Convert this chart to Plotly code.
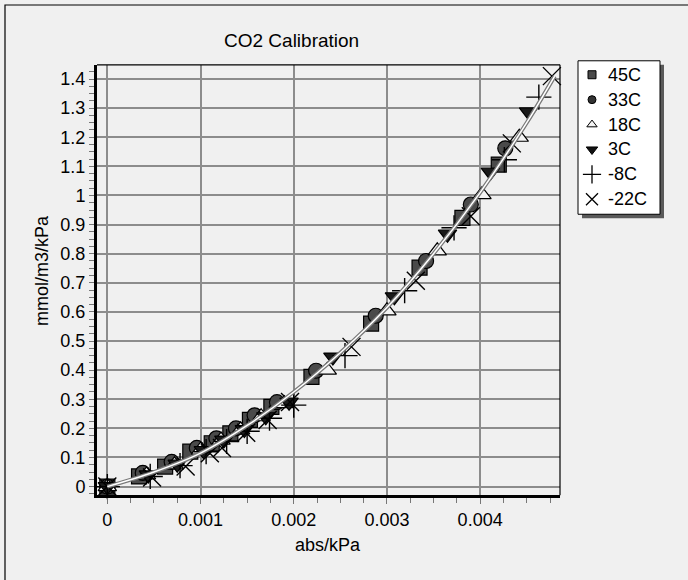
import plotly.graph_objects as go

# ---- data ----
series_names = ["45C", "33C", "18C", "3C", "-8C", "-22C"]

x_45 = [0, 0.00034, 0.00062, 0.00089, 0.00112, 0.00132, 0.00153, 0.00176, 0.00219, 0.00283, 0.00335, 0.00381, 0.00420]
y_45 = [0, 0.035, 0.069, 0.120, 0.149, 0.183, 0.229, 0.274, 0.377, 0.560, 0.752, 0.923, 1.106]

x_33 = [0, 0.00038, 0.00069, 0.00096, 0.00117, 0.00138, 0.00158, 0.00182, 0.00224, 0.00288, 0.00342, 0.00390, 0.00427]
y_33 = [0, 0.047, 0.085, 0.133, 0.166, 0.200, 0.245, 0.290, 0.398, 0.587, 0.775, 0.969, 1.162]

x_18 = [0, 0.00042, 0.00072, 0.00100, 0.00122, 0.00143, 0.00165, 0.00190, 0.00236, 0.00300, 0.00354, 0.00402, 0.00442]
y_18 = [0, 0.040, 0.075, 0.125, 0.160, 0.195, 0.240, 0.285, 0.400, 0.604, 0.810, 1.003, 1.200]

x_3 = [0, 0.00044, 0.00075, 0.00103, 0.00125, 0.00147, 0.00170, 0.00195, 0.00242, 0.00308, 0.00365, 0.00411, 0.00452]
y_3 = [0, 0.040, 0.077, 0.124, 0.160, 0.196, 0.240, 0.290, 0.445, 0.652, 0.867, 1.080, 1.287]

x_m8 = [0, 0.00046, 0.00078, 0.00106, 0.00128, 0.00150, 0.00174, 0.00200, 0.00255, 0.00319, 0.00372, 0.00426, 0.00463]
y_m8 = [0, 0.035, 0.072, 0.120, 0.155, 0.190, 0.235, 0.280, 0.450, 0.673, 0.889, 1.123, 1.338]

x_m22 = [0, 0.00048, 0.00084, 0.00110, 0.00123, 0.00149, 0.00172, 0.00196, 0.00262, 0.00331, 0.00390, 0.00434, 0.00477]
y_m22 = [0, 0.031, 0.069, 0.115, 0.133, 0.185, 0.229, 0.291, 0.480, 0.707, 0.929, 1.179, 1.410]

fit_x = [0, 0.0005, 0.001, 0.0015, 0.002, 0.0025, 0.003, 0.0035, 0.004, 0.0045, 0.0048]
fit_y = [0, 0.050, 0.115, 0.210, 0.325, 0.460, 0.615, 0.800, 1.010, 1.250, 1.410]

x_ticks = [0, 0.001, 0.002, 0.003, 0.004]
x_ticklabels = ["0", "0.001", "0.002", "0.003", "0.004"]
y_ticks = [0, 0.1, 0.2, 0.3, 0.4, 0.5, 0.6, 0.7, 0.8, 0.9, 1.0, 1.1, 1.2, 1.3, 1.4]
y_ticklabels = ["0", "0.1", "0.2", "0.3", "0.4", "0.5", "0.6", "0.7", "0.8", "0.9", "1", "1.1", "1.2", "1.3", "1.4"]

# ---- styles ----
FONT = "Liberation Sans, Arial, sans-serif"
FS = 18
styles = [
    dict(symbol="square", color="#4a4a4a", line=dict(color="black", width=1.2), size=15),
    dict(symbol="circle", color="#4a4a4a", line=dict(color="black", width=1.2), size=15),
    dict(symbol="triangle-up", color="#f4f4f4", line=dict(color="black", width=1.2), size=16),
    dict(symbol="triangle-down", color="#1a1a1a", line=dict(color="black", width=1.2), size=16),
    dict(symbol="cross-thin", color="black", line=dict(color="black", width=1.4), size=18),
    dict(symbol="x-thin", color="black", line=dict(color="black", width=1.4), size=18),
]
legend_styles = [
    dict(symbol="square", color="#4a4a4a", line=dict(color="black", width=1), size=8),
    dict(symbol="circle", color="#333333", line=dict(color="black", width=1), size=8),
    dict(symbol="triangle-up", color="#f4f4f4", line=dict(color="black", width=1), size=9),
    dict(symbol="triangle-down", color="#111111", line=dict(color="black", width=1), size=10),
    dict(symbol="cross-thin", color="black", line=dict(color="black", width=1.3), size=13),
    dict(symbol="x-thin", color="black", line=dict(color="black", width=1.3), size=12),
]
xs = [x_45, x_33, x_18, x_3, x_m8, x_m22]
ys = [y_45, y_33, y_18, y_3, y_m8, y_m22]

W, H = 688, 580
PL, PR, PT, PB = 97, 560, 65, 497   # plot area in pixels

def fx(p):
    return p / W

def fy(p):
    return (H - p) / H

fig = go.Figure()
for name, xv, yv, st in zip(series_names, xs, ys, styles):
    fig.add_trace(go.Scatter(x=xv, y=yv, mode="markers", name=name, marker=st,
                             showlegend=False, cliponaxis=False))

fig.add_trace(go.Scatter(x=fit_x, y=fit_y, mode="lines", line=dict(color="#7a7a7a", width=4, shape="spline"),
                         showlegend=False, hoverinfo="skip"))
fig.add_trace(go.Scatter(x=fit_x, y=fit_y, mode="lines", line=dict(color="#ffffff", width=1.5, shape="spline"),
                         showlegend=False, hoverinfo="skip"))

# ---- hand-drawn legend on a pixel-space overlay axis ----
leg_rows = [75, 100, 125, 150, 175, 200]
leg_sym_x = 592
leg_txt_x = 606
for name, st, ry in zip(series_names, legend_styles, leg_rows):
    fig.add_trace(go.Scatter(x=[leg_sym_x], y=[ry], mode="markers", marker=st, xaxis="x2", yaxis="y2",
                             showlegend=False, hoverinfo="skip", cliponaxis=False))

annotations = [
    dict(text="CO2 Calibration", x=fx(291), y=fy(41), xref="paper", yref="paper", showarrow=False,
         font=dict(size=19), xanchor="center", yanchor="middle"),
    dict(text="abs/kPa", x=fx(328), y=fy(547), xref="paper", yref="paper", showarrow=False,
         font=dict(size=FS), xanchor="center", yanchor="middle"),
    dict(text="mmol/m3/kPa", x=fx(42), y=fy(272), xref="paper", yref="paper", showarrow=False,
         font=dict(size=FS), xanchor="center", yanchor="middle", textangle=-90),
]
for name, ry in zip(series_names, leg_rows):
    annotations.append(dict(text=name, x=fx(leg_txt_x), y=fy(ry), xref="paper", yref="paper",
                            showarrow=False, font=dict(size=FS), xanchor="left", yanchor="middle"))

fig.update_layout(
    width=W, height=H,
    margin=dict(l=0, r=0, t=0, b=0),
    paper_bgcolor="#f0f0f0", plot_bgcolor="rgba(0,0,0,0)",
    font=dict(family=FONT, size=FS, color="black"),
    showlegend=False,
    xaxis=dict(domain=[fx(PL), fx(PR)], anchor="y",
               range=[-0.000111, 0.004857], tickvals=x_ticks, ticktext=x_ticklabels,
               showgrid=True, gridcolor="#8c8c8c", gridwidth=1.5, zeroline=False,
               showline=True, linecolor="black", linewidth=3,
               ticks="outside", ticklen=6, tickcolor="#777777", tickwidth=1,
               minor=dict(dtick=0.00025, tick0=0, ticks="outside", ticklen=5, tickcolor="#777777", showgrid=False),
               tickfont=dict(size=FS)),
    yaxis=dict(domain=[fy(PB), fy(PT)], anchor="x",
               range=[-0.0298, 1.449], tickvals=y_ticks, ticktext=y_ticklabels,
               showgrid=True, gridcolor="#8c8c8c", gridwidth=1.5, zeroline=False,
               showline=True, linecolor="black", linewidth=3,
               ticks="outside", ticklen=5, tickcolor="#777777", tickwidth=1,
               minor=dict(dtick=0.025, tick0=0, ticks="outside", ticklen=5, tickcolor="#777777", showgrid=False),
               tickfont=dict(size=FS)),
    xaxis2=dict(domain=[0, 1], anchor="y2", range=[0, W], visible=False, fixedrange=True),
    yaxis2=dict(domain=[0, 1], anchor="x2", range=[H, 0], visible=False, fixedrange=True),
    annotations=annotations,
    shapes=[
        # outer frame (left and top visible)
        dict(type="rect", xref="paper", yref="paper", x0=fx(5), y0=fy(700), x1=fx(800), y1=fy(5),
             line=dict(color="black", width=1.2), fillcolor="rgba(0,0,0,0)", layer="below"),
        # thin top & right plot border
        dict(type="line", xref="paper", yref="paper", x0=fx(PL), x1=fx(PR), y0=fy(PT), y1=fy(PT),
             line=dict(color="black", width=1.2)),
        dict(type="line", xref="paper", yref="paper", x0=fx(PR), x1=fx(PR), y0=fy(PB), y1=fy(PT),
             line=dict(color="black", width=1.2)),
        # legend shadow and box
        dict(type="rect", xref="paper", yref="paper", x0=fx(582), x1=fx(664), y0=fy(219), y1=fy(65),
             line=dict(width=0), fillcolor="#5a5a5a", layer="below"),
        dict(type="rect", xref="paper", yref="paper", x0=fx(578), x1=fx(660), y0=fy(215), y1=fy(61),
             line=dict(color="black", width=1), fillcolor="white", layer="below"),
    ],
)

fig.write_html("out.html")
